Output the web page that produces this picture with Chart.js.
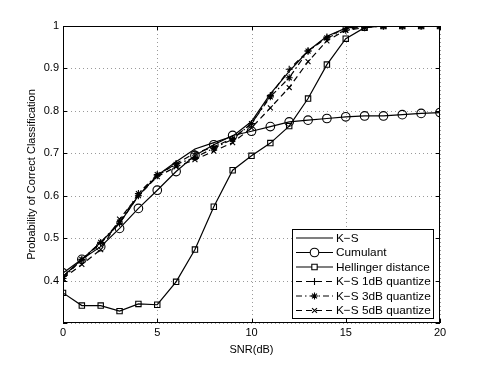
<!DOCTYPE html>
<html>
<head>
<meta charset="utf-8">
<script src="https://cdn.jsdelivr.net/npm/chart.js@4.4.0/dist/chart.umd.min.js"></script>
<style>
  html, body { margin: 0; padding: 0; background: #fff; }
  #wrap { width: 485px; height: 365px; }
</style>
</head>
<body>
<div id="wrap"><canvas id="pcc"></canvas></div>
<script>
// SNR values (dB)
const snr = [0, 1, 2, 3, 4, 5, 6, 7, 8, 9, 10, 11, 12, 13, 14, 15, 16, 17, 18, 19, 20];

// probability of correct classification
const ks        = [0.41, 0.45, 0.49, 0.535, 0.60, 0.648, 0.68, 0.71, 0.725, 0.74, 0.775, 0.84, 0.893, 0.941, 0.976, 0.995, 1, 1, 1, 1, 1];
const cumulant  = [0.418, 0.45, 0.48, 0.523, 0.57, 0.613, 0.657, 0.695, 0.72, 0.742, 0.752, 0.763, 0.774, 0.778, 0.782, 0.786, 0.788, 0.788, 0.791, 0.794, 0.796];
const hellinger = [0.371, 0.341, 0.341, 0.328, 0.345, 0.343, 0.397, 0.473, 0.574, 0.66, 0.694, 0.724, 0.764, 0.829, 0.909, 0.97, 0.996, 1, 1, 1, 1];
const ks1dB     = [0.41, 0.448, 0.488, 0.535, 0.60, 0.647, 0.676, 0.70, 0.715, 0.735, 0.77, 0.836, 0.898, 0.941, 0.974, 0.995, 1, 1, 1, 1, 1];
const ks3dB     = [0.405, 0.45, 0.49, 0.538, 0.605, 0.65, 0.674, 0.69, 0.712, 0.733, 0.77, 0.833, 0.878, 0.941, 0.972, 0.99, 0.996, 1, 1, 1, 1];
const ks5dB     = [0.405, 0.438, 0.473, 0.545, 0.60, 0.645, 0.668, 0.685, 0.705, 0.725, 0.76, 0.807, 0.855, 0.916, 0.965, 0.99, 1, 1, 1, 1, 1];

const seriesNames = ['K\u2212S', 'Cumulant', 'Hellinger distance', 'K\u2212S 1dB quantize', 'K\u2212S 3dB quantize', 'K\u2212S 5dB quantize'];

// tick values
const xTicks = [0, 5, 10, 15, 20];
const yTicks = [0.3, 0.4, 0.5, 0.6, 0.7, 0.8, 0.9, 1];

const FONT = 'Liberation Sans, Arial, Helvetica, sans-serif';

function pts(ys) {
    return ys.map((y, i) => ({ x: snr[i], y: y }));
}

function series(label, ys, style, radius, dash) {
    return {
        label: label,
        data: pts(ys),
        borderColor: '#000',
        backgroundColor: 'rgba(0,0,0,0)',
        borderWidth: 1.2,
        borderDash: dash,
        pointStyle: style,
        pointRadius: radius,
        pointBorderColor: '#000',
        pointBackgroundColor: 'rgba(0,0,0,0)',
        pointBorderWidth: 1.1,
        tension: 0
    };
}

// dotted grid under the data
const dotGrid = {
    id: 'dotGrid',
    beforeDatasetsDraw(chart) {
        const ctx = chart.ctx;
        const a = chart.chartArea;
        const xs = chart.scales.x, ys = chart.scales.y;
        ctx.save();
        ctx.strokeStyle = '#9a9a9a';
        ctx.lineWidth = 1;
        ctx.setLineDash([1, 3]);
        ctx.beginPath();
        xTicks.forEach(v => {
            const px = Math.round(xs.getPixelForValue(v)) + 0.5;
            ctx.moveTo(px, a.bottom); ctx.lineTo(px, a.top);
        });
        yTicks.forEach(v => {
            const py = Math.round(ys.getPixelForValue(v)) + 0.5;
            ctx.moveTo(a.left, py); ctx.lineTo(a.right, py);
        });
        ctx.stroke();
        ctx.restore();
    }
};

// box around the plot + inward ticks + legend
const frame = {
    id: 'frame',
    afterDatasetsDraw(chart) {
        const ctx = chart.ctx;
        const a = chart.chartArea;
        const xs = chart.scales.x, ys = chart.scales.y;
        ctx.save();
        ctx.strokeStyle = '#000';
        ctx.lineWidth = 1;
        ctx.setLineDash([]);
        ctx.strokeRect(a.left + 0.5, a.top + 0.5, a.right - a.left - 1, a.bottom - a.top - 1);
        ctx.beginPath();
        xTicks.forEach(v => {
            const px = Math.round(xs.getPixelForValue(v)) + 0.5;
            ctx.moveTo(px, a.bottom); ctx.lineTo(px, a.bottom - 4);
            ctx.moveTo(px, a.top); ctx.lineTo(px, a.top + 4);
        });
        yTicks.forEach(v => {
            const py = Math.round(ys.getPixelForValue(v)) + 0.5;
            ctx.moveTo(a.left, py); ctx.lineTo(a.left + 4, py);
            ctx.moveTo(a.right, py); ctx.lineTo(a.right - 4, py);
        });
        ctx.stroke();

        // legend box
        const bx = 292, by = 229, bw = 141, bh = 89;
        ctx.fillStyle = '#fff';
        ctx.fillRect(bx, by, bw, bh);
        ctx.strokeRect(bx + 0.5, by + 0.5, bw, bh);
        ctx.font = '11.8px ' + FONT;
        ctx.textBaseline = 'middle';
        chart.data.datasets.forEach((ds, i) => {
            const y = by + 9 + i * 14.5;
            ctx.strokeStyle = '#000';
            ctx.lineWidth = ds.borderWidth;
            ctx.setLineDash(ds.borderDash || []);
            ctx.beginPath();
            ctx.moveTo(bx + 4, y); ctx.lineTo(bx + 41, y);
            ctx.stroke();
            ctx.setLineDash([]);
            if (ds.pointRadius > 0) {
                ctx.fillStyle = '#fff';
                ctx.lineWidth = ds.pointBorderWidth;
                Chart.helpers.drawPoint(ctx, {
                    pointStyle: ds.pointStyle, radius: ds.pointRadius, borderWidth: ds.pointBorderWidth
                }, bx + 22.5, y);
            }
            ctx.fillStyle = '#000';
            ctx.fillText(ds.label, bx + 44, y + 0.5);
        });
        ctx.restore();
    }
};

new Chart(document.getElementById('pcc'), {
    type: 'line',
    data: {
        datasets: [
            series(seriesNames[0], ks, 'circle', 0, []),
            series(seriesNames[1], cumulant, 'circle', 4.3, []),
            series(seriesNames[2], hellinger, 'rect', 3.8, []),
            series(seriesNames[3], ks1dB, 'cross', 3.5, [6, 4]),
            series(seriesNames[4], ks3dB, 'star', 3.5, [6, 3, 1.5, 3]),
            series(seriesNames[5], ks5dB, 'crossRot', 3.5, [6, 4])
        ]
    },
    options: {
        responsive: true,
        maintainAspectRatio: false,
        animation: false,
        layout: { padding: { top: 26, right: 45, left: 0, bottom: 0 } },
        plugins: { legend: { display: false }, tooltip: { enabled: false } },
        scales: {
            x: {
                type: 'linear',
                min: 0, max: 20,
                afterFit(scale) { scale.height = 42; },
                afterBuildTicks(scale) { scale.ticks = xTicks.map(v => ({ value: v })); },
                grid: { display: false, drawTicks: false },
                border: { display: false },
                ticks: { color: '#000', padding: 3, font: { family: FONT, size: 11 }, maxRotation: 0 },
                title: { display: true, text: 'SNR(dB)', color: '#000', font: { family: FONT, size: 11 }, padding: { top: 0, bottom: 8 } }
            },
            y: {
                type: 'linear',
                min: 0.3, max: 1,
                afterFit(scale) { scale.width = 63; },
                afterBuildTicks(scale) { scale.ticks = yTicks.map(v => ({ value: v })); },
                grid: { display: false, drawTicks: false },
                border: { display: false },
                ticks: {
                    color: '#000', padding: 4, font: { family: FONT, size: 11 },
                    callback: v => (v < 0.35 ? '' : String(Math.round(v * 10) / 10))
                },
                title: { display: true, text: 'Probability of Correct Classification', color: '#000', font: { family: FONT, size: 11 }, padding: { top: 25, bottom: 0 } }
            }
        }
    },
    plugins: [dotGrid, frame]
});
</script>
</body>
</html>
